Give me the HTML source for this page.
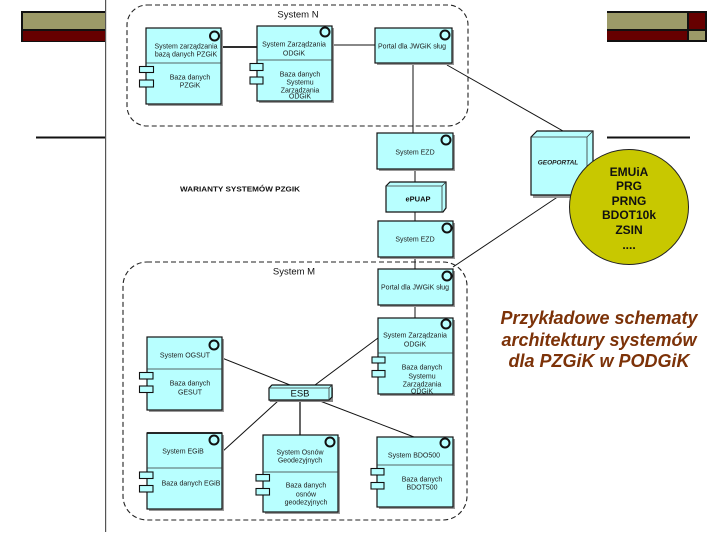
<!DOCTYPE html>
<html><head><meta charset="utf-8"><style>
html,body{margin:0;padding:0;background:#fff;width:720px;height:540px;overflow:hidden}
svg{display:block;filter:blur(.3px)}
text{font-family:"Liberation Sans",sans-serif;font-size:7px;fill:#222;text-anchor:middle;dominant-baseline:central}
.n{fill:#b8ffff;stroke:#111;stroke-width:1.2}
.s{fill:#999}
.t{fill:#b8ffff;stroke:#111;stroke-width:1.1}
.b{fill:#b8ffff;stroke:#111;stroke-width:2}
.d{stroke:#333;stroke-width:.8;fill:none}
.c{stroke:#111;stroke-width:1;fill:none}
.big{font-size:12px;font-weight:bold;fill:#111}
.br{font-size:18px;font-style:italic;font-weight:bold;fill:#7c3208;dominant-baseline:auto}
</style></head><body>
<svg width="720" height="540" viewBox="0 0 720 540" xmlns="http://www.w3.org/2000/svg">
<!-- header -->
<rect x="21" y="11" width="84" height="31" fill="#111"/>
<rect x="23" y="13" width="82" height="16" fill="#9c9a68"/>
<rect x="23" y="31" width="82" height="10" fill="#660000"/>
<rect x="607" y="11" width="100" height="31" fill="#111"/>
<rect x="607" y="13" width="80" height="16" fill="#9c9a68"/>
<rect x="689" y="13" width="16" height="16" fill="#660000"/>
<rect x="607" y="31" width="80" height="9" fill="#660000"/>
<rect x="689" y="31" width="16" height="9" fill="#9c9a68"/>
<rect x="36" y="136.5" width="69" height="2" fill="#111"/>
<rect x="607" y="136.5" width="83" height="2" fill="#111"/>
<rect x="105" y="0" width="1.2" height="532" fill="#555"/>

<!-- containers -->
<rect x="127" y="5" width="341" height="121" rx="20" fill="none" stroke="#222" stroke-width="1.1" stroke-dasharray="5 3"/>
<rect x="123" y="262" width="344" height="258" rx="24" fill="none" stroke="#222" stroke-width="1.1" stroke-dasharray="5 3"/>

<!-- connectors -->
<g class="c">
<path d="M221 47H257" stroke-width="1.7"/>
<path d="M332 45H375"/>
<path d="M413 63V133M415 169V182M415 212V221M415 257V269M415 305V318"/>
<path d="M447 65L563 131"/>
<path d="M562 194L453 267"/>
<path d="M222 358L290 385"/>
<path d="M378 338L315 385"/>
<path d="M278 401L222 452"/>
<path d="M320 401L414 437"/>
<path d="M300 401V435" stroke="#555" stroke-width="1.8"/>
</g>

<!-- shadows -->
<g class="s">
<rect x="148" y="30" width="75" height="76"/>
<rect x="259" y="28" width="75" height="75"/>
<rect x="377" y="30" width="77" height="35"/>
<rect x="379" y="135" width="76" height="36"/>
<rect x="380" y="223" width="75" height="36"/>
<rect x="380" y="271" width="75" height="36"/>
<rect x="380" y="320" width="75" height="76"/>
<rect x="149" y="339" width="75" height="73"/>
<rect x="149" y="435" width="75" height="76"/>
<rect x="265" y="437" width="75" height="77"/>
<rect x="379" y="439" width="76" height="70"/>
<rect x="533" y="139" width="60" height="59"/>
</g>

<!-- System N nodes -->
<rect class="n" x="146" y="28" width="75" height="76"/><path class="d" d="M146 63H221"/>
<rect class="t" x="139.500" y="66.500" width="14" height="6"/><rect class="t" x="139.500" y="80" width="14" height="7"/>
<circle class="b" cx="214.500" cy="36" r="4.500"/>
<rect class="n" x="257" y="26" width="75" height="75"/><path class="d" d="M257 60H332"/>
<rect class="t" x="250" y="63.500" width="13" height="7"/><rect class="t" x="250" y="77" width="13" height="7"/>
<circle class="b" cx="325" cy="32" r="4.500"/>
<rect class="n" x="375" y="28" width="77" height="35" stroke-width="1.5"/>
<circle class="b" cx="445" cy="35" r="4.500"/>

<rect class="n" x="377" y="133" width="76" height="36"/><circle class="b" cx="446" cy="140" r="4.500"/>
<path class="n" d="M386 186L390 182H446V208L443 212H386Z"/><path class="d" d="M386 186H442V212M442 186L446 182"/>
<rect class="n" x="378" y="221" width="75" height="36"/><circle class="b" cx="447" cy="228" r="4.500"/>
<rect class="n" x="378" y="269" width="75" height="36"/><circle class="b" cx="447" cy="276" r="4.500"/>

<!-- System M nodes -->
<rect class="n" x="378" y="318" width="75" height="76"/><path class="d" d="M378 353H453"/>
<rect class="t" x="372" y="357" width="13" height="6"/><rect class="t" x="372" y="370.500" width="13" height="6.500" stroke-width="1.600"/>
<circle class="b" cx="446" cy="324" r="4.500"/>
<rect class="n" x="147" y="337" width="75" height="73"/><path class="d" d="M147 369H222"/>
<rect class="t" x="139.500" y="372.500" width="13.500" height="6.500"/><rect class="t" x="139.500" y="386" width="13.500" height="6.500"/>
<circle class="b" cx="214" cy="345" r="4.500"/>
<rect class="n" x="147" y="433" width="75" height="76"/><path d="M147 433H222" stroke="#111" stroke-width="1.800"/><path class="d" d="M147 468H222"/>
<rect class="t" x="139.500" y="472" width="13.500" height="6.500"/><rect class="t" x="139.500" y="485.500" width="13.500" height="6.500"/>
<circle class="b" cx="214" cy="440" r="4.500"/>
<rect class="n" x="263" y="435" width="75" height="77"/><path class="d" d="M263 472H338"/>
<rect class="t" x="256" y="474.500" width="13.500" height="6.500"/><rect class="t" x="256" y="488.500" width="13.500" height="6.500"/>
<circle class="b" cx="330" cy="442" r="4.500"/>
<rect class="n" x="377" y="437" width="76" height="70"/><path class="d" d="M377 465H453"/>
<rect class="t" x="371" y="468.500" width="13" height="6.500"/><rect class="t" x="371" y="482.500" width="13" height="6.500"/>
<circle class="b" cx="445" cy="443" r="4.500"/>

<!-- ESB -->
<path d="M270 402H333V388L331 385H271L269 388V400Z" fill="#888"/>
<path class="n" d="M269 388L272 385H332V397L329 400H269Z" stroke-width="1"/>
<path class="d" d="M269 388H329V400M329 388L332 385"/>

<!-- Geoportal -->
<path class="n" d="M531 137L537 131H593V190L590 195H531Z" stroke-width="1.500"/>
<path class="d" d="M531 137H587V195M587 137L593 131" stroke-width="1"/>

<!-- circle -->
<ellipse cx="629" cy="207" rx="59.500" ry="57.500" fill="#c8c800" stroke="#222" stroke-width="1"/>

<!-- labels -->
<text x="298" y="15" style="font-size:9.5px;fill:#111">System N</text>
<text x="294" y="272" style="font-size:9.5px;fill:#111">System M</text>
<text x="240" y="189" style="font-size:7.5px;font-weight:bold;fill:#111" textLength="120" lengthAdjust="spacingAndGlyphs">WARIANTY SYSTEMÓW PZGIK</text>

<text x="186" y="47">System zarządzania</text>
<text x="186" y="55">bazą danych PZGiK</text>
<text x="190" y="78">Baza danych</text>
<text x="190" y="86">PZGiK</text>

<text x="294" y="45">System Zarządzania</text>
<text x="294" y="54">ODGiK</text>
<text x="300" y="75">Baza danych</text>
<text x="300" y="83">Systemu</text>
<text x="300" y="91">Zarządzania</text>
<text x="300" y="97">ODGiK</text>

<text x="412" y="47">Portal dla JWGiK sług</text>
<text x="415" y="153">System EZD</text>
<text x="418" y="199" style="font-size:7.5px;font-weight:bold;fill:#111">ePUAP</text>
<text x="415" y="240">System EZD</text>
<text x="415" y="288">Portal dla JWGiK sług</text>

<text x="415" y="336">System Zarządzania</text>
<text x="415" y="345">ODGiK</text>
<text x="422" y="368">Baza danych</text>
<text x="422" y="377">Systemu</text>
<text x="422" y="385">Zarządzania</text>
<text x="422" y="392">ODGiK</text>

<text x="185" y="356">System OGSUT</text>
<text x="190" y="384">Baza danych</text>
<text x="190" y="393">GESUT</text>

<text x="300" y="394" style="font-size:9.500px;fill:#111">ESB</text>

<text x="183" y="452">System EGiB</text>
<text x="191" y="484">Baza danych EGiB</text>

<text x="300" y="453">System Osnów</text>
<text x="300" y="461">Geodezyjnych</text>
<text x="306" y="486">Baza danych</text>
<text x="306" y="495">osnów</text>
<text x="306" y="503">geodezyjnych</text>

<text x="414" y="456">System BDO500</text>
<text x="422" y="480">Baza danych</text>
<text x="422" y="488">BDOT500</text>

<text x="558" y="163" style="font-size:6.500px;font-weight:bold;font-style:italic">GEOPORTAL</text>

<text class="big" x="629" y="172">EMUiA</text>
<text class="big" x="629" y="186">PRG</text>
<text class="big" x="629" y="201">PRNG</text>
<text class="big" x="629" y="215">BDOT10k</text>
<text class="big" x="629" y="230">ZSIN</text>
<text class="big" x="629" y="245">....</text>

<text class="br" x="599" y="324">Przykładowe schematy</text>
<text class="br" x="599" y="346">architektury systemów</text>
<text class="br" x="599" y="367">dla PZGiK w PODGiK</text>
</svg>
</body></html>
